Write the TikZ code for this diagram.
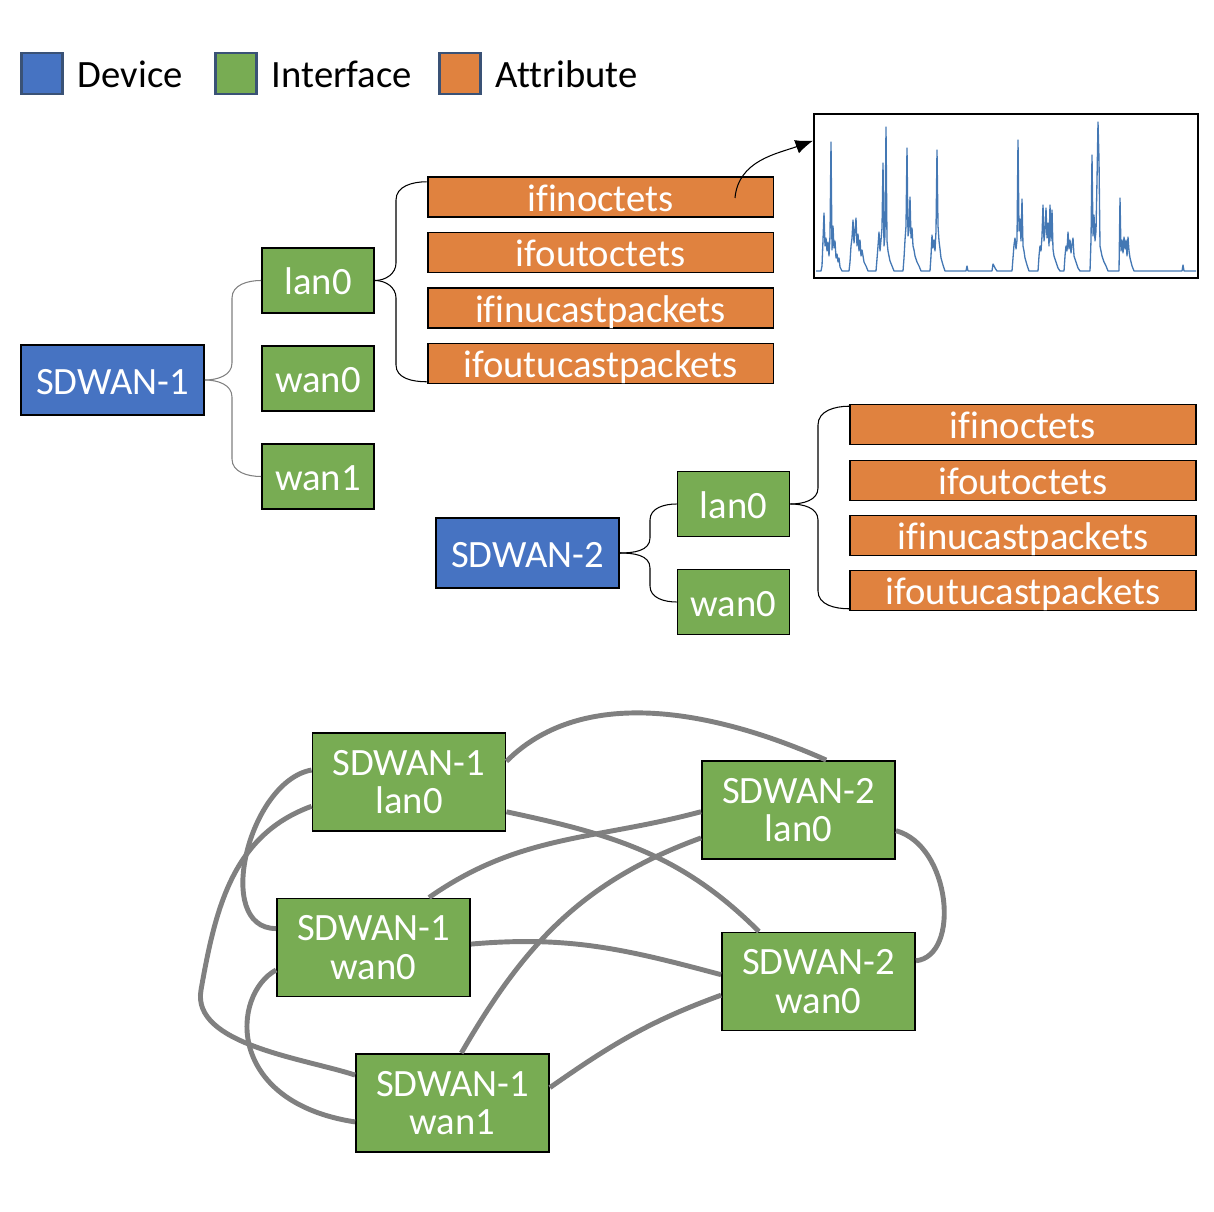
\documentclass[tikz,border=0pt]{standalone}
\usepackage{fontspec}
\setmainfont{Carlito}[Ligatures=NoCommon]
\usetikzlibrary{positioning}
\usetikzlibrary{arrows.meta}

\definecolor{devblue}{HTML}{4673C2}
\definecolor{ifgreen}{HTML}{78AC53}
\definecolor{attorange}{HTML}{E0823F}
\definecolor{legborder}{HTML}{3A5276}
\definecolor{linkgray}{HTML}{808080}
\definecolor{plotblue}{HTML}{4478B4}

\tikzset{
	devbox/.style={draw=black, line width=1.1pt, fill=devblue, text=white, minimum width=3.66cm, minimum height=1.4cm, inner sep=0pt, text height=16.5pt, text depth=0pt},
	ifbox/.style={draw=black, line width=1.1pt, fill=ifgreen, text=white, minimum width=2.24cm, minimum height=1.3cm, inner sep=0pt, text height=16pt, text depth=0pt},
	attrbox/.style={draw=black, line width=1.1pt, fill=attorange, text=white, minimum width=6.92cm, minimum height=0.8cm, inner sep=0pt, text height=16.5pt, text depth=0pt},
	pairbox/.style={draw=black, line width=1.1pt, fill=ifgreen, text=white, align=center, minimum width=3.86cm, minimum height=1.96cm, inner sep=0pt},
	legbox/.style={draw=legborder, line width=1.3pt, minimum size=0.82cm, inner sep=0pt},
	legtext/.style={inner sep=0pt, text height=16.5pt, text depth=0pt},
	bracket/.style={draw=black, line width=0.6pt},
	link/.style={draw=linkgray, line width=2.8pt},
}

\begin{document}
\begin{tikzpicture}[x=0.02cm, y=-0.02cm, font=\fontsize{22}{22}\selectfont]
\useasboundingbox (0,0) rectangle (1214,1212);

	\node[legbox, fill=devblue] (ldev) at (42,73.5) {};
	\node[legtext, right=0.28cm of ldev] (tdev) {Device};
	\node[legbox, fill=ifgreen] (lif) at (236,73.5) {};
	\node[legtext, right=0.28cm of lif] (tif) {Interface};
	\node[legbox, fill=attorange] (latt) at (460,73.5) {};
	\node[legtext, right=0.28cm of latt] (tatt) {Attribute};

	\node[devbox] (dev1) at (112.5,380) {SDWAN-1};
	\node[ifbox] (if1lan) at (318,280.5) {lan0};
	\node[ifbox] (if1wan0) at (318,378.5) {wan0};
	\node[ifbox] (if1wan1) at (318,476.5) {wan1};
 \foreach \n/\y/\t in {1/197/ifinoctets, 2/252.5/ifoutoctets, 3/308/ifinucastpackets, 4/363.5/ifoutucastpackets}
 \node[attrbox] (a\n) at (600.5,\y) {\t};

	\node[devbox] (dev2) at (527.5,553) {SDWAN-2};
	\node[ifbox] (if2lan) at (733.5,504) {lan0};
	\node[ifbox] (if2wan0) at (733.5,602) {wan0};
 \foreach \n/\y/\t in {1/424.5/ifinoctets, 2/480.5/ifoutoctets, 3/535.5/ifinucastpackets, 4/590.5/ifoutucastpackets}
 \node[attrbox] (b\n) at (1023,\y) {\t};

\draw[bracket, draw=gray] (dev1.east) to[out=0, in=-90] (232,363) -- (232,298) to[out=90, in=180] (if1lan.west);
\draw[bracket, draw=gray] (dev1.east) to[out=0, in=90] (232,397) -- (232,459) to[out=-90, in=180] (if1wan1.west);
\draw[bracket] (if1lan.east) to[out=0, in=-90] (396,263) -- (396,200) to[out=90, in=180] (a1.175);
\draw[bracket] (if1lan.east) to[out=0, in=90] (396,298) -- (396,365) to[out=-90, in=180] (a4.186);
\draw[bracket] (dev2.east) to[out=0, in=-90] (650,538) -- (650,520) to[out=90, in=180] (if2lan.west);
\draw[bracket] (dev2.east) to[out=0, in=90] (650,568) -- (650,586) to[out=-90, in=180] (if2wan0.west);
\draw[bracket] (if2lan.east) to[out=0, in=-90] (818,488) -- (818,425) to[out=90, in=180] (b1.174);
\draw[bracket] (if2lan.east) to[out=0, in=90] (818,520) -- (818,591) to[out=-90, in=180] (b4.186);

	\node[draw=black, line width=1.1pt, minimum width=7.68cm, minimum height=3.28cm, inner sep=0pt] (chart) at (1006,196) {};
\draw[plotblue, line width=0.75pt, line join=round] plot coordinates {
 (816,271) (821,271) (822,266) (823,240) (824,213) (825,246) (826,238) (827,251) (828,242) (829,256) (830,236) (831,142) (832,250) (833,226) (834,248) (835,241) (836,258) (837,254) (838,262) (839,258) (840,267) (842,271)
 (849,271) (850,262) (851,246) (852,238) (853,220) (854,243) (855,231) (856,218) (857,246) (858,234) (859,251) (860,240) (861,256) (862,250) (864,262) (866,266) (868,271)
 (876,271) (877,259) (878,246) (879,232) (880,251) (881,240) (882,228) (883,163) (884,246) (885,236) (886,127) (887,241) (888,251) (889,256) (890,261) (892,266) (894,271)
 (903,271) (904,258) (905,240) (906,226) (907,148) (908,236) (909,230) (910,197) (911,238) (912,228) (913,246) (914,250) (915,256) (917,262) (919,266) (921,271)
 (930,271) (931,256) (932,235) (933,248) (934,240) (935,251) (936,231) (937,150) (938,226) (939,241) (940,249) (941,258) (943,265) (945,271)
 (966,271) (967,266) (968,271) (992,271) (993,264) (995,268) (997,271)
 (1012,271) (1013,258) (1014,245) (1015,238) (1016,249) (1017,240) (1018,140) (1019,231) (1020,219) (1021,241) (1022,199) (1023,246) (1024,251) (1025,258) (1027,265) (1029,271)
 (1038,271) (1039,256) (1040,246) (1041,251) (1042,236) (1043,205) (1044,241) (1045,231) (1046,208) (1047,238) (1048,223) (1049,246) (1050,205) (1051,241) (1052,210) (1053,249) (1054,256) (1056,262) (1058,268) (1060,271)
 (1064,271) (1065,256) (1066,246) (1067,251) (1068,232) (1069,249) (1070,240) (1071,253) (1072,244) (1073,238) (1074,256) (1076,262) (1078,268) (1080,271)
 (1090,271) (1091,240) (1092,155) (1093,236) (1094,215) (1095,241) (1096,231) (1097,180) (1098,122) (1099,160) (1100,246) (1101,251) (1102,256) (1104,262) (1106,266) (1108,271)
 (1119,271) (1120,198) (1121,251) (1122,240) (1123,253) (1124,237) (1125,249) (1126,240) (1127,256) (1128,237) (1129,251) (1130,258) (1132,266) (1134,271)
 (1182,271) (1183,265) (1184,271) (1196,271)};
	\coordinate (tail) at (735,198);
\draw[-{Latex[length=10pt,width=8pt]}, line width=0.6pt] (tail) to[out=85, in=200] (chart.164);

	\node[pairbox] (p1lan) at (409,782) {SDWAN-1\\lan0};
	\node[pairbox] (p1wan0) at (373.5,947.5) {SDWAN-1\\wan0};
	\node[pairbox] (p1wan1) at (452.5,1103) {SDWAN-1\\wan1};
	\node[pairbox] (p2lan) at (798.5,810) {SDWAN-2\\lan0};
	\node[pairbox] (p2wan0) at (818.5,981.5) {SDWAN-2\\wan0};

\draw[link] (p1lan.12) to[out=45, in=156, looseness=0.9] (p2lan.61);
\draw[link] (p1lan.-17) to[out=-12, in=135] (p2wan0.140);
\draw[link] (p1lan.173) to[out=190, in=180] (p1wan0.169);
\draw[link] (p1lan.194) to[out=200, in=80] (201,990) to[out=-100, in=162, looseness=0.8] (p1wan1.164);
\draw[link] (p1wan0.42) to[out=35, in=195] (p2lan.181);
\draw[link] (p1wan0.2) to[out=5, in=165] (p2wan0.176);
\draw[link] (p1wan0.193) .. controls +(-45,25) and +(-130,-20) .. (p1wan1.191);
\draw[link] (p1wan1.80) to[out=60, in=200] (p2lan.196);
\draw[link] (p1wan1.9) to[out=35, in=200] (p2wan0.188);
\draw[link] (p2lan.-12) .. controls +(55,15) and +(45,-5) .. (p2wan0.12);

\end{tikzpicture}
\end{document}
